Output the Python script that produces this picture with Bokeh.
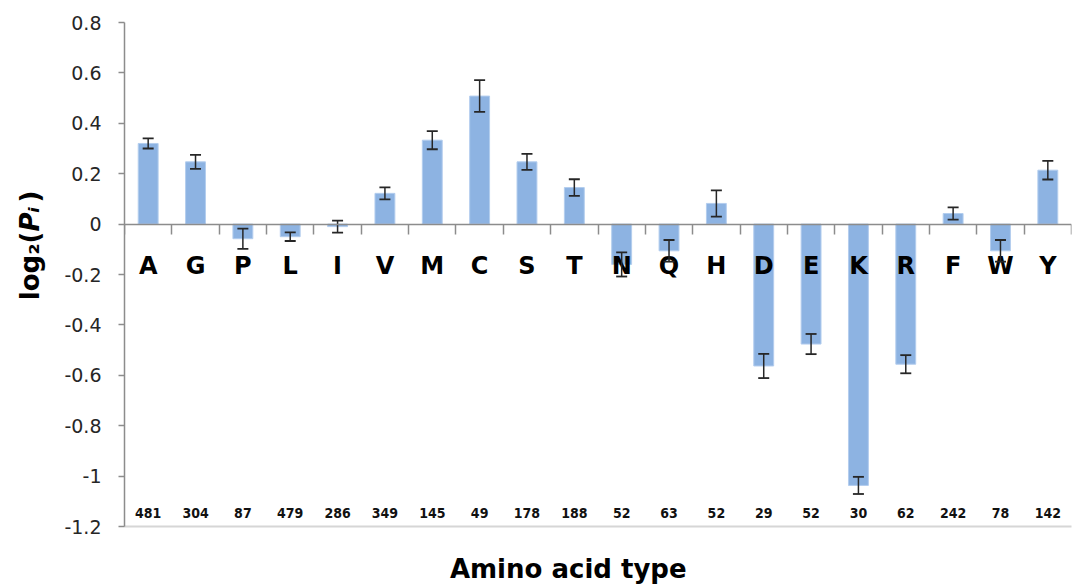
import math
from bokeh.plotting import figure
from bokeh.layouts import row, column
from bokeh.models import (ColumnDataSource, Range1d, LinearAxis, FixedTicker,
                          Whisker, TeeHead)
from bokeh.core.properties import value
from bokeh.embed import file_html
from bokeh.resources import INLINE

# ---- data ----
amino_acids = ["A", "G", "P", "L", "I", "V", "M", "C", "S", "T",
               "N", "Q", "H", "D", "E", "K", "R", "F", "W", "Y"]
log2_p = [0.32, 0.247, -0.058, -0.05, -0.01, 0.122, 0.333, 0.508, 0.247, 0.145,
          -0.16, -0.106, 0.082, -0.563, -0.476, -1.037, -0.556, 0.042, -0.106, 0.214]
err = [0.02, 0.028, 0.04, 0.017, 0.024, 0.024, 0.036, 0.063, 0.032, 0.033,
       0.048, 0.043, 0.052, 0.048, 0.04, 0.034, 0.036, 0.024, 0.043, 0.037]
counts = ["481", "304", "87", "479", "286", "349", "145", "49", "178", "188",
          "52", "63", "52", "29", "52", "30", "62", "242", "78", "142"]
ytick_values = [-1.2, -1.0, -0.8, -0.6, -0.4, -0.2, 0.0, 0.2, 0.4, 0.6, 0.8]
ytick_labels = ["-1.2", "-1", "-0.8", "-0.6", "-0.4", "-0.2", "0", "0.2", "0.4", "0.6", "0.8"]
x_title = "Amino acid type"
y_title_parts = ["log₂(", "Pᵢ", ")"]

letter_y = -0.168
count_y = -1.146

n = len(amino_acids)
xs = [i + 0.5 for i in range(n)]
src = ColumnDataSource(dict(
    x=xs, top=log2_p, aa=amino_acids, cnt=counts,
    upper=[v + e for v, e in zip(log2_p, err)],
    lower=[v - e for v, e in zip(log2_p, err)],
    ly=[letter_y] * n, cy=[count_y] * n,
))

W, H = 1078, 585
LW = 60          # width of y-title strip
BH = 40          # height of x-title strip
MW, MH = W - LW, H - BH

def blank(width, height):
    f = figure(width=width, height=height, output_backend="svg",
               toolbar_location=None, x_range=Range1d(0, width),
               y_range=Range1d(0, height), min_border=0,
               x_axis_location=None, y_axis_location=None)
    f.outline_line_color = None
    f.grid.visible = False
    return f

# ---- y-axis title strip (pixel coordinates) ----
lf = blank(LW, H)
common = dict(angle=math.pi / 2, text_font=value("DejaVu Sans"),
              text_font_size="26px", text_color="black", text_baseline="middle")
lf.text(x=[29], y=[354], text=[y_title_parts[0]], text_align="right",
        text_font_style="bold", **common)
lf.text(x=[29], y=[354], text=[y_title_parts[1]], text_align="left",
        text_font_style="bold italic", **common)
lf.text(x=[29], y=[383], text=[y_title_parts[2]], text_align="left",
        text_font_style="bold", **common)

# ---- x-axis title strip ----
bf = blank(MW, BH)
bf.text(x=[477], y=[17], text=[x_title], text_align="center",
        text_baseline="middle", text_font=value("DejaVu Sans"),
        text_font_style="bold", text_font_size="26px", text_color="black")

# ---- main chart ----
p = figure(width=MW, height=MH, output_backend="svg", toolbar_location=None,
           x_range=Range1d(0, n), y_range=Range1d(-1.2, 0.8),
           x_axis_location=None, min_border_left=124 - LW, min_border_top=22,
           min_border_right=7, min_border_bottom=MH - 526)
p.outline_line_color = None
p.grid.visible = False
p.background_fill_color = "white"

p.vbar(x="x", top="top", bottom=0, width=0.42, source=src,
       fill_color="#8db3e2", line_color="#b3cdee", line_width=1)

wh = Whisker(base="x", upper="upper", lower="lower", source=src,
             line_color="#262626", line_width=1.5,
             upper_head=TeeHead(size=11, line_color="#262626", line_width=1.8),
             lower_head=TeeHead(size=11, line_color="#262626", line_width=1.8))
wh.level = "glyph"
p.add_layout(wh)

p.text(x="x", y="ly", text="aa", source=src, text_align="center",
       text_baseline="middle", text_font=value("DejaVu Sans"),
       text_font_style="bold", text_font_size="24px", text_color="black")
p.text(x="x", y="cy", text="cnt", source=src, text_align="center",
       text_baseline="middle", text_font=value("DejaVu Sans Condensed"),
       text_font_style="bold", text_font_size="14px", text_color="#111111")

# y axis
ya = p.yaxis[0]
ya.ticker = FixedTicker(ticks=ytick_values, minor_ticks=[])
ya.major_label_overrides = {v: l for v, l in zip(ytick_values, ytick_labels)}
ya.axis_line_color = "#8c8c8c"
ya.axis_line_width = 1.5
ya.major_tick_line_color = "#8c8c8c"
ya.major_tick_line_width = 1.5
ya.major_tick_out = 6
ya.major_tick_in = 0
ya.major_label_standoff = 17
ya.major_label_text_font = "DejaVu Sans"
ya.major_label_text_font_size = "19px"
ya.major_label_text_color = "#262626"

# bottom faint frame line
xb = LinearAxis(ticker=FixedTicker(ticks=[], minor_ticks=[]),
                axis_line_color="#d6d6d6", axis_line_width=2,
                major_label_text_font_size="0px", major_tick_out=0, major_tick_in=0)
p.add_layout(xb, "below")

# x axis at zero
xa = LinearAxis(fixed_location=0,
                ticker=FixedTicker(ticks=list(range(n + 1)), minor_ticks=[]))
xa.axis_line_color = "#8c8c8c"
xa.axis_line_width = 1.5
xa.major_tick_line_color = "#8c8c8c"
xa.major_tick_line_width = 1.5
xa.major_tick_out = 10
xa.major_tick_in = 0
xa.major_label_text_font_size = "0px"
xa.major_label_standoff = 0
p.add_layout(xa, "below")

layout = row(lf, column(p, bf))
open("out.html", "w").write(file_html(layout, INLINE))
